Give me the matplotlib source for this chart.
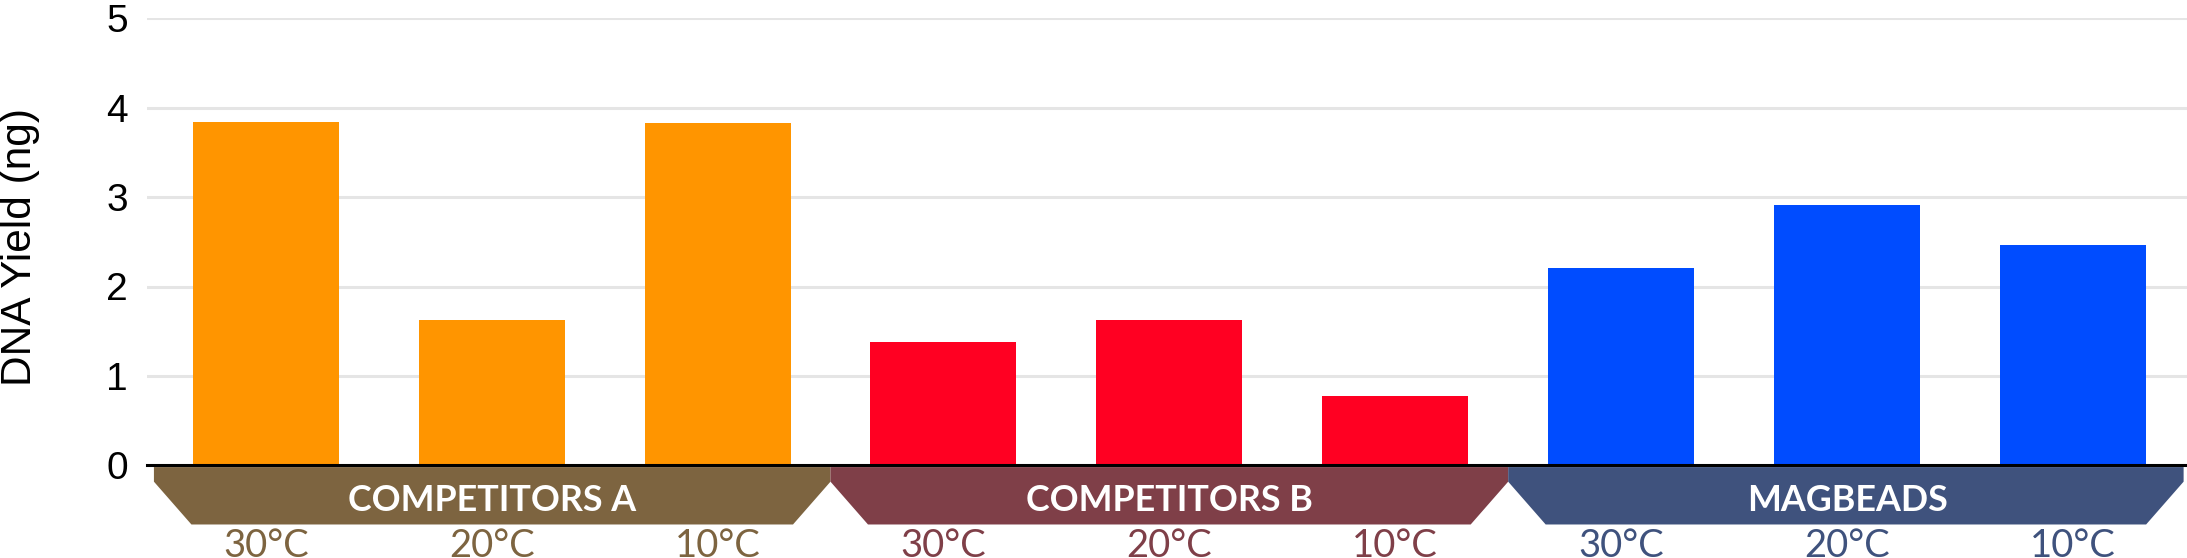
import matplotlib
matplotlib.use("Agg")
import matplotlib.pyplot as plt
from matplotlib.patches import Polygon

# ---- data ----
groups = ["COMPETITORS A", "COMPETITORS B", "MAGBEADS"]
temps = ["30°C", "20°C", "10°C"]
comp_a = [3.84, 1.63, 3.83]
comp_b = [1.38, 1.63, 0.77]
magbeads = [2.21, 2.91, 2.46]
y_ticks = [0, 1, 2, 3, 4, 5]
y_label = "DNA Yield (ng)"

bar_colors = ["#FF9500", "#FF0022", "#004CFF"]
band_colors = ["#7D6440", "#7F3F48", "#3F527D"]

series = [comp_a, comp_b, magbeads]

W, H = 2187, 558
fig = plt.figure(figsize=(W / 100, H / 100), dpi=100)
ax = fig.add_axes([146.7 / W, (H - 465.3) / H, (W - 146.7) / W, (465.3 - 18.3) / H])

ax.set_xlim(-0.527, 8.505)
ax.set_ylim(0, 5)

for g, vals in enumerate(series):
    xs = [3 * g + i for i in range(len(vals))]
    ax.bar(xs, vals, width=0.646, color=bar_colors[g], zorder=3)

# grid
for t in y_ticks[1:]:
    ax.axhline(t, color="#E5E5E5", lw=2.2, zorder=1)

for s in ax.spines.values():
    s.set_visible(False)

ax.set_yticks(y_ticks)
ax.set_yticklabels([str(t) for t in y_ticks], fontsize=28, family="Liberation Sans")
ax.tick_params(axis="y", length=0, pad=13.5)
ax.set_xticks([])

# bands
top, apex, bottom, slant = -0.02, -0.183, -0.662, 0.166
for g, name in enumerate(groups):
    x0 = 3 * g - 0.5 if g > 0 else -0.495
    x1 = 3 * g + 2.5 if g < 2 else 8.49
    poly = Polygon([(x0, top), (x1, top), (x1, apex), (x1 - slant, bottom),
                    (x0 + slant, bottom), (x0, apex)], closed=True,
                   facecolor=band_colors[g], edgecolor="none", clip_on=False, zorder=2)
    ax.add_patch(poly)
    ax.text(3 * g + 1, -0.511, name, ha="center", va="baseline", color="white",
            fontsize=25.8, family="Lato", fontweight="bold", clip_on=False, zorder=4)
    for i, t in enumerate(temps):
        ax.text(3 * g + i, -1.03, t, ha="center", va="baseline", color=band_colors[g],
                fontsize=27.5, family="Lato", clip_on=False, zorder=4)

ax.axhline(0, color="black", lw=2.2, zorder=5, clip_on=False)

fig.text(20 / W, 1 - 247.5 / H, y_label, rotation=90, ha="center", va="center",
         fontsize=30.5, family="Liberation Sans")

fig.savefig("out.png", dpi=100)
